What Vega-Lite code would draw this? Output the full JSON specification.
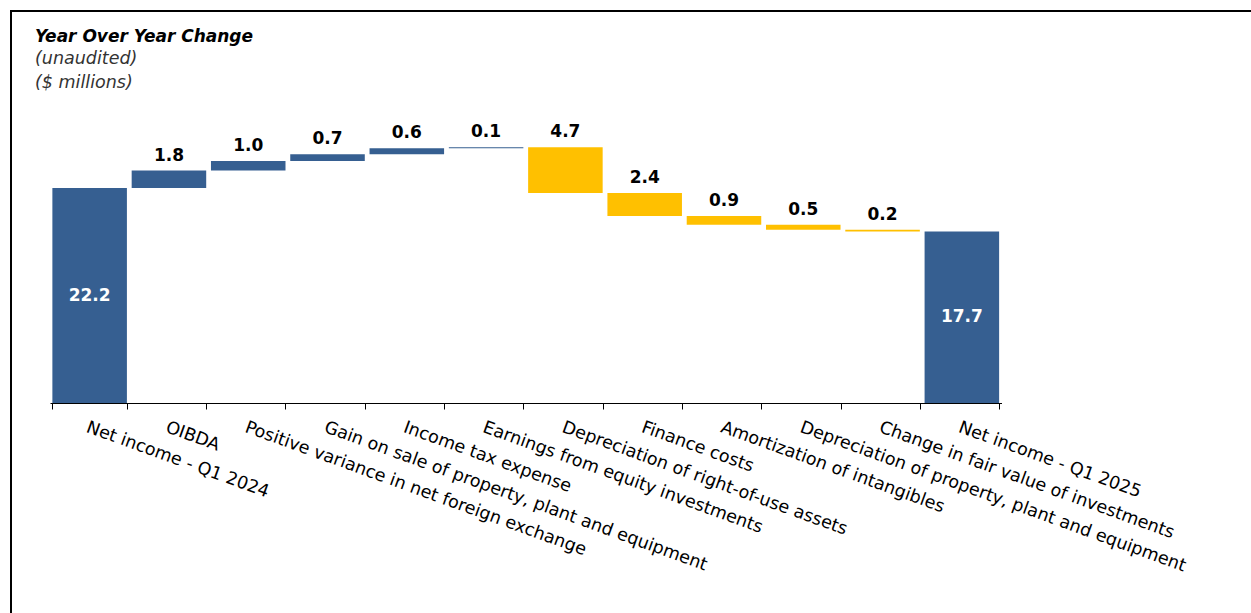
{
  "$schema": "https://vega.github.io/schema/vega-lite/v6.json",
  "autosize": {"type": "none"},
  "width": 1240,
  "height": 602,
  "padding": {"left": 11, "top": 11, "right": 0, "bottom": 0},
  "background": "white",
  "title": {
    "text": "Year Over Year Change",
    "subtitle": ["(unaudited)", "($ millions)"],
    "anchor": "start",
    "frame": "group",
    "orient": "top",
    "offset": -81,
    "dx": 24,
    "font": "DejaVu Sans",
    "fontSize": 17,
    "fontStyle": "italic",
    "fontWeight": "bold",
    "color": "#000000",
    "subtitleFont": "DejaVu Sans",
    "subtitleFontSize": 17.5,
    "subtitleFontStyle": "italic",
    "subtitleColor": "#333333",
    "subtitleLineHeight": 24,
    "subtitlePadding": 4
  },
  "data": {
    "values": [
      {"label": "Net income - Q1 2024", "start": 0, "end": 22.2, "amount": 22.2, "kind": "total"},
      {"label": "OIBDA", "start": 22.2, "end": 24.0, "amount": 1.8, "kind": "increase"},
      {"label": "Positive variance in net foreign exchange", "start": 24.0, "end": 25.0, "amount": 1.0, "kind": "increase"},
      {"label": "Gain on sale of property, plant and equipment", "start": 25.0, "end": 25.7, "amount": 0.7, "kind": "increase"},
      {"label": "Income tax expense", "start": 25.7, "end": 26.3, "amount": 0.6, "kind": "increase"},
      {"label": "Earnings from equity investments", "start": 26.3, "end": 26.4, "amount": 0.1, "kind": "increase"},
      {"label": "Depreciation of right-of-use assets", "start": 26.4, "end": 21.7, "amount": 4.7, "kind": "decrease"},
      {"label": "Finance costs", "start": 21.7, "end": 19.3, "amount": 2.4, "kind": "decrease"},
      {"label": "Amortization of intangibles", "start": 19.3, "end": 18.4, "amount": 0.9, "kind": "decrease"},
      {"label": "Depreciation of property, plant and equipment", "start": 18.4, "end": 17.9, "amount": 0.5, "kind": "decrease"},
      {"label": "Change in fair value of investments", "start": 17.9, "end": 17.7, "amount": 0.2, "kind": "decrease"},
      {"label": "Net income - Q1 2025", "start": 0, "end": 17.7, "amount": 17.7, "kind": "total"}
    ]
  },
  "encoding": {
    "x": {
      "field": "label",
      "type": "nominal",
      "sort": null,
      "scale": {"range": [39, 990.5], "paddingInner": 0.06, "paddingOuter": 0.03},
      "axis": {
        "title": null,
        "orient": "bottom",
        "offset": -210,
        "labelAngle": 20,
        "labelAlign": "left",
        "labelBaseline": "top",
        "labelFont": "DejaVu Sans",
        "labelFontSize": 17.5,
        "labelColor": "#000000",
        "labelLimit": 1000,
        "labelOverlap": false,
        "labelPadding": 9,
        "tickBand": "extent",
        "tickSize": 6,
        "tickColor": "#000000",
        "domainColor": "#000000",
        "domainWidth": 1
      }
    }
  },
  "layer": [
    {
      "mark": {"type": "bar", "strokeWidth": 0},
      "encoding": {
        "y": {"field": "start", "type": "quantitative", "scale": {"domain": [-21.68, 40.48], "zero": false, "nice": false}, "axis": null},
        "y2": {"field": "end"},
        "color": {
          "field": "kind",
          "type": "nominal",
          "scale": {"domain": ["total", "increase", "decrease"], "range": ["#365F91", "#365F91", "#FFC000"]},
          "legend": null
        }
      }
    },
    {
      "transform": [
        {"filter": "datum.kind !== 'total'"},
        {"calculate": "max(datum.start, datum.end)", "as": "top"}
      ],
      "mark": {"type": "text", "font": "DejaVu Sans", "fontSize": 17, "fontWeight": "bold", "color": "#000000", "baseline": "alphabetic", "dy": -10},
      "encoding": {
        "y": {"field": "top", "type": "quantitative"},
        "text": {"field": "amount", "type": "quantitative", "format": ".1f"}
      }
    },
    {
      "transform": [
        {"filter": "datum.kind === 'total'"},
        {"calculate": "(datum.start + datum.end) / 2", "as": "mid"}
      ],
      "mark": {"type": "text", "font": "DejaVu Sans", "fontSize": 17, "fontWeight": "bold", "color": "#FFFFFF", "baseline": "middle"},
      "encoding": {
        "y": {"field": "mid", "type": "quantitative"},
        "text": {"field": "amount", "type": "quantitative", "format": ".1f"}
      }
    }
  ],
  "config": {
    "view": {"stroke": "#000000", "strokeWidth": 2, "strokeDash": [1240, 1842, 602]}
  }
}
